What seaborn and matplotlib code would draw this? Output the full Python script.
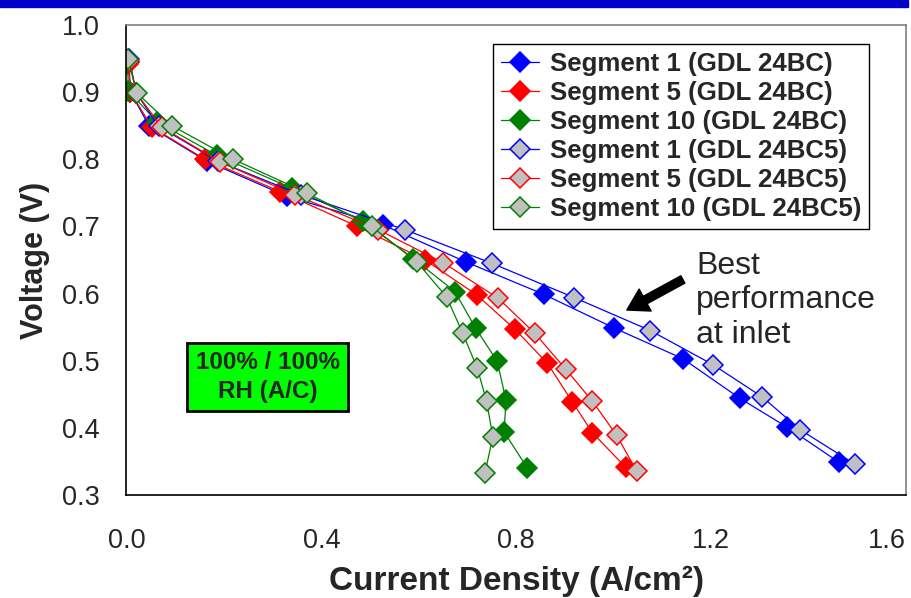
import matplotlib
matplotlib.use("Agg")
import matplotlib.pyplot as plt
import seaborn as sns
import pandas as pd

# Polarization curves: current density (A/cm2) vs. cell voltage (V)
seg1_bc_j = [0.005, 0.008, 0.047, 0.165, 0.329, 0.527, 0.697, 0.856, 1.000, 1.142, 1.259, 1.356, 1.462]
seg1_bc_v = [0.945, 0.900, 0.849, 0.797, 0.745, 0.702, 0.647, 0.599, 0.549, 0.503, 0.444, 0.401, 0.349]

seg5_bc_j = [0.004, 0.008, 0.052, 0.161, 0.315, 0.474, 0.613, 0.719, 0.797, 0.864, 0.915, 0.956, 1.025]
seg5_bc_v = [0.942, 0.900, 0.848, 0.800, 0.752, 0.700, 0.650, 0.598, 0.547, 0.496, 0.439, 0.393, 0.341]

seg10_bc_j = [0.002, 0.004, 0.062, 0.185, 0.339, 0.486, 0.589, 0.674, 0.717, 0.761, 0.779, 0.775, 0.823]
seg10_bc_v = [0.944, 0.902, 0.856, 0.806, 0.757, 0.708, 0.652, 0.603, 0.548, 0.499, 0.441, 0.394, 0.340]

seg1_bc5_j = [0.006, 0.020, 0.066, 0.188, 0.358, 0.572, 0.750, 0.919, 1.075, 1.204, 1.305, 1.383, 1.495]
seg1_bc5_v = [0.949, 0.899, 0.849, 0.797, 0.747, 0.695, 0.645, 0.594, 0.545, 0.494, 0.446, 0.397, 0.346]

seg5_bc5_j = [0.005, 0.020, 0.072, 0.192, 0.346, 0.517, 0.650, 0.763, 0.838, 0.902, 0.956, 1.006, 1.047]
seg5_bc5_v = [0.947, 0.899, 0.848, 0.796, 0.747, 0.695, 0.646, 0.593, 0.541, 0.487, 0.440, 0.389, 0.336]

seg10_bc5_j = [0.004, 0.021, 0.093, 0.219, 0.370, 0.503, 0.596, 0.657, 0.690, 0.720, 0.739, 0.752, 0.736]
seg10_bc5_v = [0.949, 0.899, 0.850, 0.800, 0.750, 0.700, 0.647, 0.595, 0.541, 0.489, 0.440, 0.387, 0.333]

series_labels = [
    "Segment 1 (GDL 24BC)",
    "Segment 5 (GDL 24BC)",
    "Segment 10 (GDL 24BC)",
    "Segment 1 (GDL 24BC5)",
    "Segment 5 (GDL 24BC5)",
    "Segment 10 (GDL 24BC5)",
]
series_j = [seg1_bc_j, seg5_bc_j, seg10_bc_j, seg1_bc5_j, seg5_bc5_j, seg10_bc5_j]
series_v = [seg1_bc_v, seg5_bc_v, seg10_bc_v, seg1_bc5_v, seg5_bc5_v, seg10_bc5_v]

x_ticks = [0.0, 0.4, 0.8, 1.2, 1.6]
y_ticks = [0.3, 0.4, 0.5, 0.6, 0.7, 0.8, 0.9, 1.0]

line_colors = ["#0000ff", "#ff0000", "#008000", "#0000ff", "#ff0000", "#008000"]
face_colors = ["#0000ff", "#ff0000", "#008000", "#c0c0c0", "#c0c0c0", "#c0c0c0"]

sns.set_style("white")
plt.rcParams["font.family"] = ["Liberation Sans", "DejaVu Sans"]

W, H = 912, 598
fig = plt.figure(figsize=(W / 100, H / 100), dpi=100)
ax = fig.add_axes([126.5 / W, 1 - 495 / H, (906 - 126.5) / W, (495 - 25) / H])

# header band
fig.patches.append(plt.Rectangle((0, 1 - 7 / H), 908 / W, 7 / H,
                                 transform=fig.transFigure, color="#0000c8", zorder=0))

frames = []
for lab, j, v in zip(series_labels, series_j, series_v):
    frames.append(pd.DataFrame({"j": j, "v": v, "series": lab}))
df = pd.concat(frames, ignore_index=True)

for lab, lc, fc in zip(series_labels, line_colors, face_colors):
    sub = df[df["series"] == lab]
    sns.lineplot(data=sub, x="j", y="v", ax=ax, sort=False, estimator=None,
                 color=lc, linewidth=0.9, marker="D", markersize=10,
                 markerfacecolor=fc, markeredgecolor=lc, markeredgewidth=1.1,
                 label=lab)

ax.set_xlim(0, 1.6)
ax.set_ylim(0.3, 1.0)
ax.set_xticks(x_ticks)
ax.set_yticks(y_ticks)
ax.set_xticklabels([f"{t:.1f}" for t in x_ticks])
ax.set_yticklabels([f"{t:.1f}" for t in y_ticks])
ax.tick_params(axis="both", direction="inout", length=13, width=1.0,
               color="black", labelsize=19.5)
ax.tick_params(axis="y", pad=13)
ax.tick_params(axis="x", pad=17)
ax.xaxis.get_majorticklabels()[-1].set_horizontalalignment("right")

for side in ["left", "bottom"]:
    ax.spines[side].set_color("black")
    ax.spines[side].set_linewidth(1.2)
for side in ["top", "right"]:
    ax.spines[side].set_color("#808080")
    ax.spines[side].set_linewidth(1.2)

ax.set_xlabel("Current Density (A/cm²)", fontsize=24, fontweight="bold", labelpad=9)
ax.set_ylabel("Voltage (V)", fontsize=22, fontweight="bold", labelpad=8)

leg = ax.legend(loc="upper left", bbox_to_anchor=(0.470, 0.96), borderaxespad=0,
                frameon=True, fancybox=False, edgecolor="black", framealpha=1,
                prop={"weight": "bold", "size": 18.6}, handlelength=1.5,
                labelspacing=0.2, handletextpad=0.4, borderpad=0.3)
leg.get_frame().set_linewidth(1.0)

ax.text(0.290, 0.476, "100% / 100%\nRH (A/C)", ha="center", va="center",
        fontsize=17.5, fontweight="bold", linespacing=1.3,
        bbox=dict(boxstyle="square,pad=0.35", fc="#00ff00", ec="black", lw=2))

ax.text(1.169, 0.664, "Best\nperformance\nat inlet", ha="left", va="top",
        fontsize=23, linespacing=1.2)
ax.annotate("", xy=(1.027, 0.5755), xytext=(1.142, 0.621),
            arrowprops=dict(arrowstyle="simple,head_length=1.5,head_width=1.8,tail_width=0.6",
                            color="black", mutation_scale=10, shrinkA=0, shrinkB=0))

fig.savefig("out.png", dpi=100)
